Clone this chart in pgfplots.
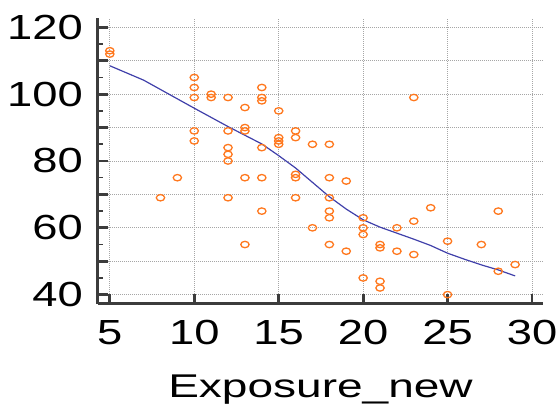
\documentclass[border=0pt]{standalone}
\usepackage{fontspec}
\setmainfont{Liberation Sans}[FakeStretch=1.3]
\newfontfamily\labelfont{Liberation Sans}[FakeStretch=1.4]
\usepackage{pgfplots}
\pgfplotsset{compat=1.18}
\definecolor{ptorange}{RGB}{255,120,30}
\definecolor{lineblue}{RGB}{64,64,170}
\definecolor{axgray}{RGB}{60,60,60}
\begin{document}
\begin{tikzpicture}
\begin{axis}[
  scale only axis,
  width=445bp, height=286bp,
  xmin=4.3, xmax=30.65, ymin=37.2, ymax=122.8,
  axis lines*=left,
  axis line style={line width=3bp, color=axgray},
  tick align=inside,
  xtick={5,10,15,20,25,30},
  ytick={40,50,...,120},
  yticklabels={40,,60,,80,,100,,120},
  minor y tick num=1,
  major tick length=10bp,
  minor tick length=5bp,
  major tick style={line width=2.8bp, color=axgray},
  minor tick style={line width=1.6bp, color=axgray},
  grid=major,
  major grid style={color=gray!70, line width=0.8bp, dash pattern=on 1bp off 1bp},
  /pgf/number format/assume math mode=true,
  tick label style={font=\fontsize{35}{40}\selectfont, inner sep=0pt},
  yticklabel style={xshift=-15bp},
  xticklabel style={yshift=-16bp},
  xlabel={\labelfont Exposure\_new},
  xlabel style={font=\fontsize{33}{38}\selectfont, at={(axis description cs:0.5,0)}, anchor=base, yshift=-94bp, inner sep=0pt},
  clip=false,
]
\addplot[only marks, mark=o, mark size=3.2bp, color=ptorange, mark options={line width=1.3bp, xscale=1.3}] coordinates {
(5,113) (5,112)
(8,69)
(9,75)
(10,105) (10,102) (10,99) (10,89) (10,86)
(11,100) (11,99)
(12,99) (12,89) (12,84) (12,82) (12,80) (12,69)
(13,96) (13,90) (13,89) (13,75) (13,55)
(14,102) (14,99) (14,98) (14,84) (14,75) (14,65)
(15,95) (15,87) (15,86) (15,85)
(16,89) (16,87) (16,76) (16,75) (16,69)
(17,85) (17,60)
(18,85) (18,75) (18,69) (18,65) (18,63) (18,55)
(19,74) (19,53)
(20,63) (20,60) (20,58) (20,45)
(21,55) (21,54) (21,44) (21,42)
(22,60) (22,53)
(23,99) (23,62) (23,52)
(24,66)
(25,56) (25,40)
(27,55)
(28,65) (28,47)
(29,49)
};
\addplot[color=lineblue, line width=1.2bp, mark=none] coordinates {
(5,108.5) (7,104.2) (10,95.8) (12,90.3) (14,85.1) (15,81.6) (16,77.9) (17,73.6) (18,69.3) (19,65.6) (20,62.4) (21,60.2) (22,58.4) (23,56.6) (24,54.7) (25,52.4) (26,50.6) (27,48.9) (28,47.4) (29,45.6)
};
\end{axis}
\path (current axis.south west) ++(-98bp,-106bp);
\path (current axis.north east) ++(16bp,18bp);
\end{tikzpicture}
\end{document}
